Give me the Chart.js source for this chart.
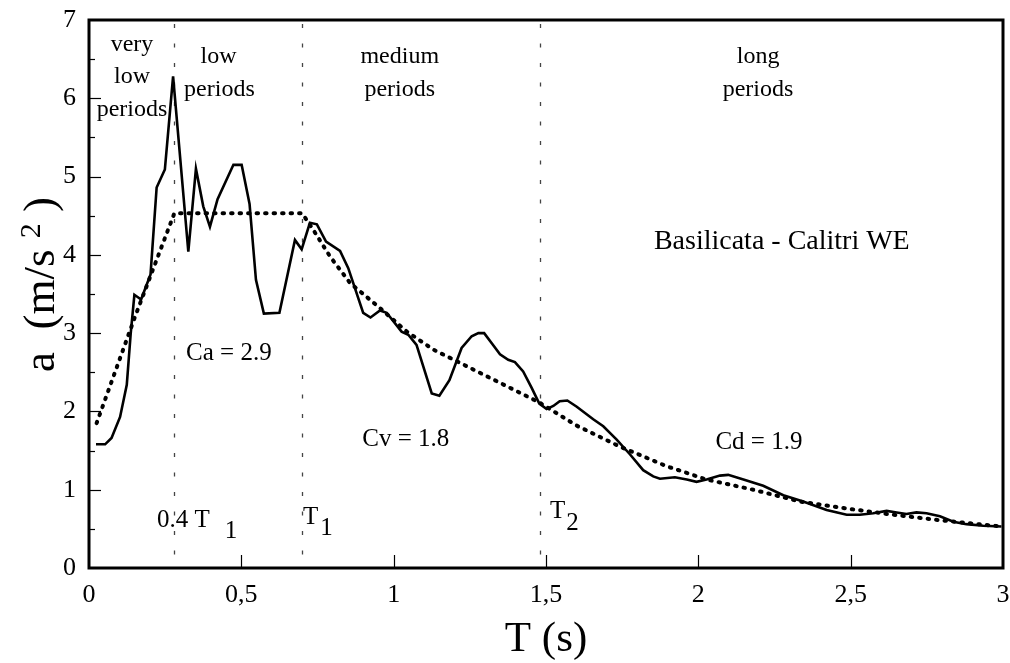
<!DOCTYPE html>
<html>
<head>
<meta charset="utf-8">
<script src="https://cdn.jsdelivr.net/npm/chart.js@4.4.0/dist/chart.umd.min.js"></script>
<style>
    html, body { margin: 0; padding: 0; background: #fff; }
    #wrap { width: 1010px; height: 663px; position: relative; }
</style>
</head>
<body>
<div id="wrap"><canvas id="spectrumChart"></canvas></div>
<script>
// Response spectrum (solid)
const periods = [0.023, 0.053, 0.074, 0.102, 0.124, 0.137, 0.149, 0.171, 0.202, 0.222, 0.249, 0.276,
    0.326, 0.351, 0.375, 0.397, 0.422, 0.474, 0.501, 0.527, 0.548, 0.574, 0.625, 0.676, 0.698,
    0.725, 0.748, 0.778, 0.824, 0.851, 0.900, 0.924, 0.955, 0.977, 1.026, 1.048, 1.075, 1.125,
    1.150, 1.183, 1.223, 1.256, 1.278, 1.297, 1.322, 1.349, 1.376, 1.398, 1.425, 1.453, 1.478,
    1.502, 1.524, 1.545, 1.570, 1.601, 1.655, 1.688, 1.732, 1.776, 1.819, 1.852, 1.874, 1.923,
    1.962, 1.994, 2.027, 2.071, 2.098, 2.148, 2.213, 2.279, 2.344, 2.421, 2.487, 2.530, 2.574,
    2.618, 2.651, 2.683, 2.716, 2.749, 2.793, 2.837, 2.880, 2.935, 2.995];
const accel = [1.58, 1.58, 1.66, 1.93, 2.34, 3.00, 3.49, 3.43, 3.75, 4.86, 5.09, 6.28,
    4.04, 5.10, 4.62, 4.36, 4.71, 5.15, 5.15, 4.65, 3.68, 3.25, 3.26, 4.19, 4.07,
    4.41, 4.39, 4.17, 4.05, 3.83, 3.26, 3.20, 3.29, 3.26, 3.02, 2.98, 2.85, 2.23,
    2.20, 2.40, 2.81, 2.96, 3.00, 3.00, 2.87, 2.73, 2.66, 2.63, 2.51, 2.30, 2.10,
    2.03, 2.07, 2.13, 2.14, 2.06, 1.90, 1.81, 1.64, 1.45, 1.25, 1.17, 1.14, 1.16,
    1.13, 1.10, 1.13, 1.18, 1.19, 1.13, 1.05, 0.93, 0.85, 0.74, 0.68, 0.68, 0.70,
    0.73, 0.71, 0.69, 0.71, 0.70, 0.66, 0.59, 0.56, 0.54, 0.53];

// Fitted design spectrum (dotted)
const fitPeriods = [0.025, 0.151, 0.28, 0.70, 0.736, 0.791, 0.857, 0.955, 1.043, 1.130, 1.218,
    1.305, 1.393, 1.480, 1.600, 1.743, 1.896, 2.027, 2.180, 2.333, 2.487, 2.640, 2.793, 2.995];
const fitAccel = [1.85, 3.21, 4.53, 4.53, 4.32, 3.98, 3.64, 3.32, 3.02, 2.79, 2.62,
    2.45, 2.28, 2.11, 1.82, 1.55, 1.30, 1.13, 1.00, 0.85, 0.76, 0.68, 0.61, 0.53];

// Period range boundaries: 0.4 T1, T1, T2
const boundaries = [0.28, 0.70, 1.48];

const xTicks = [0, 0.5, 1, 1.5, 2, 2.5, 3];
const yTicks = [0, 0.5, 1, 1.5, 2, 2.5, 3, 3.5, 4, 4.5, 5, 5.5, 6, 6.5, 7];

const SERIF = '"Liberation Serif", "Times New Roman", serif';

function txt(ctx, s, x, y, size, align) {
    ctx.font = size + 'px ' + SERIF;
    ctx.textAlign = align || 'center';
    ctx.textBaseline = 'middle';
    ctx.fillText(s, x, y);
    return ctx.measureText(s).width;
}

const decorations = {
    id: 'decorations',
    beforeDatasetsDraw(chart) {
        const ctx = chart.ctx, xs = chart.scales.x, a = chart.chartArea;
        ctx.save();
        ctx.strokeStyle = '#444';
        ctx.lineWidth = 1.3;
        ctx.setLineDash([4, 15.5]);
        boundaries.forEach(b => {
            const px = Math.round(xs.getPixelForValue(b)) + 0.5;
            ctx.beginPath();
            ctx.moveTo(px, a.top + 4);
            ctx.lineTo(px, a.bottom);
            ctx.stroke();
        });
        ctx.restore();
    },
    afterDraw(chart) {
        const ctx = chart.ctx, xs = chart.scales.x, ys = chart.scales.y, a = chart.chartArea;
        const X = v => xs.getPixelForValue(v), Y = v => ys.getPixelForValue(v);
        ctx.save();
        ctx.strokeStyle = '#000';
        ctx.fillStyle = '#000';

        // inward tick marks
        ctx.lineWidth = 1.2;
        yTicks.forEach(v => {
            if (v === 0 || v === 7) return;
            const len = Number.isInteger(v) ? 12 : 6;
            const py = Math.round(Y(v)) + 0.5;
            ctx.beginPath();
            ctx.moveTo(a.left, py);
            ctx.lineTo(a.left + len, py);
            ctx.stroke();
        });
        xTicks.forEach(v => {
            if (v === 0 || v === 3) return;
            const px = Math.round(X(v)) + 0.5;
            ctx.beginPath();
            ctx.moveTo(px, a.bottom);
            ctx.lineTo(px, a.bottom - 13);
            ctx.stroke();
        });

        // frame
        ctx.lineWidth = 3;
        ctx.strokeRect(a.left, a.top, a.right - a.left, a.bottom - a.top);

        // range labels
        txt(ctx, 'very', X(0.141), Y(6.69), 24);
        txt(ctx, 'low', X(0.141), Y(6.27), 24);
        txt(ctx, 'periods', X(0.141), Y(5.86), 24);
        txt(ctx, 'low', X(0.425), Y(6.53), 24);
        txt(ctx, 'periods', X(0.428), Y(6.11), 24);
        txt(ctx, 'medium', X(1.02), Y(6.53), 24);
        txt(ctx, 'periods', X(1.02), Y(6.11), 24);
        txt(ctx, 'long', X(2.196), Y(6.53), 24);
        txt(ctx, 'periods', X(2.196), Y(6.11), 24);

        txt(ctx, 'Basilicata - Calitri WE', X(2.274), Y(4.17), 28);
        txt(ctx, 'Ca = 2.9', X(0.459), Y(2.74), 25);
        txt(ctx, 'Cv = 1.8', X(1.04), Y(1.64), 25);
        txt(ctx, 'Cd = 1.9', X(2.199), Y(1.61), 25);

        // period markers with subscripts
        let w = txt(ctx, '0.4 T', X(0.223), Y(0.61), 25, 'left');
        txt(ctx, '1', X(0.223) + w + 15, Y(0.61) + 11, 25, 'left');
        w = txt(ctx, 'T', X(0.702), Y(0.64), 25, 'left');
        txt(ctx, '1', X(0.702) + w + 2, Y(0.64) + 11, 25, 'left');
        w = txt(ctx, 'T', X(1.513), Y(0.72), 25, 'left');
        txt(ctx, '2', X(1.513) + w + 1, Y(0.72) + 12, 25, 'left');

        // axis titles
        txt(ctx, 'T (s)', X(1.5), 640, 43);

        ctx.translate(42, 372);
        ctx.rotate(-Math.PI / 2);
        w = txt(ctx, 'a  (m/s ', 0, 0, 45, 'left');
        const w2 = txt(ctx, '2', w, -10, 30, 'left');
        txt(ctx, ' )', w + w2, 0, 45, 'left');
        ctx.restore();
    }
};

document.addEventListener('DOMContentLoaded', function() {
    const ctx = document.getElementById('spectrumChart');
    new Chart(ctx, {
        type: 'line',
        data: {
            datasets: [{
                label: 'spectrum',
                data: periods.map((t, i) => ({ x: t, y: accel[i] })),
                borderColor: '#000',
                borderWidth: 2.6,
                pointRadius: 0,
                tension: 0,
                fill: false
            }, {
                label: 'fit',
                data: fitPeriods.map((t, i) => ({ x: t, y: fitAccel[i] })),
                borderColor: '#000',
                borderWidth: 4,
                borderDash: [1.5, 7],
                borderCapStyle: 'round',
                pointRadius: 0,
                tension: 0,
                fill: false
            }]
        },
        options: {
            responsive: true,
            maintainAspectRatio: false,
            animation: false,
            layout: { padding: { top: 20, right: 7, left: 0, bottom: 0 } },
            plugins: {
                legend: { display: false },
                tooltip: { enabled: false }
            },
            scales: {
                x: {
                    type: 'linear',
                    min: 0,
                    max: 3,
                    afterBuildTicks: s => { s.ticks = xTicks.map(v => ({ value: v })); },
                    afterFit: s => { s.height = 95; s.paddingLeft = 0; s.paddingRight = 0; },
                    grid: { display: false, drawTicks: false },
                    border: { display: false },
                    ticks: {
                        color: '#000',
                        padding: 12,
                        maxRotation: 0,
                        autoSkip: false,
                        font: { family: SERIF, size: 26 },
                        callback: v => String(v).replace('.', ',')
                    }
                },
                y: {
                    type: 'linear',
                    min: 0,
                    max: 7,
                    afterBuildTicks: s => { s.ticks = yTicks.map(v => ({ value: v })); },
                    afterFit: s => { s.width = 89; s.paddingTop = 0; s.paddingBottom = 0; },
                    grid: { display: false, drawTicks: false },
                    border: { display: false },
                    ticks: {
                        color: '#000',
                        padding: 13,
                        autoSkip: false,
                        font: { family: SERIF, size: 26 },
                        callback: v => Number.isInteger(v) ? String(v) : ''
                    }
                }
            }
        },
        plugins: [decorations]
    });
});
</script>
</body>
</html>
